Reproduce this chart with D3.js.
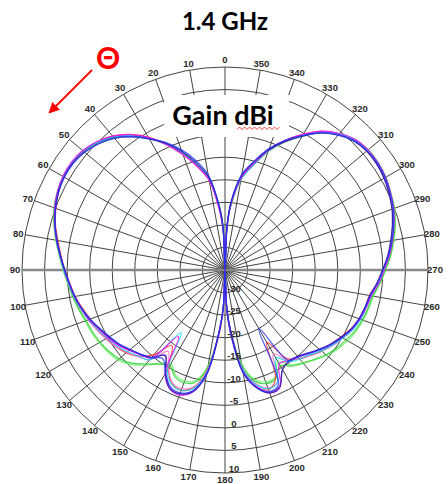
<!DOCTYPE html>
<html>
<head>
<meta charset="utf-8">
<script src="https://cdn.jsdelivr.net/npm/d3@7"></script>
<style>
  body { margin: 0; background: #fff; }
  svg { display: block; }
</style>
</head>
<body>
<div id="chart"></div>
<script>
// angles (deg, counter-clockwise from top) at which gain was read
const angles = [0,2.5,5,10,15,20,25,30,35,40,45,50,55,60,65,70,75,80,85,90,95,100,105,110,115,120,125,130,135,140,145,150,155,160,165,170,175,177.5,180,182.5,185,190,195,200,205,210,215,220,225,230,235,240,245,250,255,260,265,270,275,280,285,290,295,300,305,310,315,320,325,330,335,340,345,350,355,357.5];

// gain dBi per trace
const red = [-40,-27,-22,-14.8,-11.2,-7.8,-4.4,-1.0,1.7,3.8,5.1,6.0,6.3,6.2,5.7,4.9,3.9,2.6,1.5,0.5,-0.5,-1.3,-2.3,-3.2,-3.8,-4.6,-5.4,-6.4,-8.0,-10.5,-14.5,-10.0,-7.2,-6.6,-8.0,-12.5,-21,-27,-40,-26,-21,-12,-8.2,-6.8,-8.5,-16.5,-11.0,-9.3,-8.2,-7.0,-6.3,-5.3,-4.2,-3.4,-2.9,-2.5,-1.2,0.0,1.3,2.4,3.5,4.5,5.2,5.8,6.1,6.0,5.6,4.2,2.5,-0.2,-3.3,-6.6,-10.5,-14.0,-20.5,-26.5];
const green = [-40,-25,-21,-14.2,-10.8,-7.2,-4.0,-1.3,1.3,3.4,4.9,6.0,6.5,6.5,6.0,5.3,4.2,3.0,1.8,0.8,-0.1,-0.8,-1.5,-2.2,-2.6,-3.0,-3.6,-4.4,-5.8,-7.8,-9.5,-10.5,-8.8,-8.4,-9.2,-13,-22,-27,-40,-27,-22,-13.5,-9.5,-8.2,-8.4,-10.5,-9.0,-8.0,-7.0,-5.8,-4.8,-4.0,-3.2,-2.6,-2.2,-1.8,-0.6,0.5,1.8,2.9,4.0,4.9,5.5,6.1,6.4,6.4,5.8,4.4,2.3,-0.6,-3.6,-7.0,-11.0,-14.5,-21,-26];
const blue = [-40,-26,-21,-13.5,-9.8,-6.6,-3.8,-1.4,1.1,3.2,4.6,5.6,6.1,6.1,5.7,5.0,4.0,2.9,1.7,0.6,-0.4,-1.2,-2.1,-3.2,-4.4,-5.5,-6.4,-7.6,-8.6,-9.6,-11.0,-8.6,-6.4,-6.0,-7.2,-11.5,-22,-27,-40,-27,-21,-11.8,-8.0,-6.3,-7.0,-20,-10.5,-9.8,-8.8,-7.5,-6.2,-5.1,-4.0,-3.3,-2.8,-2.3,-1.1,0.0,1.4,2.6,3.7,4.7,5.4,6.0,6.3,6.1,5.5,4.1,2.2,-0.5,-3.2,-6.3,-10.0,-13.5,-20,-25.5];
const cyan = [-40,-26,-21.5,-14.6,-11.0,-7.6,-4.3,-1.3,1.4,3.5,5.0,6.1,6.5,6.4,5.9,5.1,4.1,2.9,1.7,0.7,-0.2,-1.0,-1.9,-2.8,-3.9,-4.8,-5.7,-6.8,-8.0,-9.0,-18,-9.5,-7.0,-6.6,-7.8,-12,-22,-27,-40,-27,-22,-12.8,-8.8,-7.0,-7.5,-12.5,-10.2,-9.2,-8.4,-7.1,-5.9,-4.8,-3.7,-3.0,-2.6,-2.1,-0.9,0.2,1.5,2.6,3.7,4.7,5.4,6.0,6.3,6.3,5.8,4.4,2.4,-0.5,-3.5,-6.9,-10.9,-14.5,-20.5,-26];
const magenta = [-40,-26.5,-22,-14.8,-11.2,-7.7,-4.3,-1.1,1.6,3.7,5.2,6.2,6.6,6.5,6.0,5.2,4.1,2.9,1.6,0.6,-0.3,-1.1,-2.0,-2.9,-4.1,-5.0,-6.0,-7.3,-8.5,-9.6,-17,-8.5,-6.0,-5.5,-6.9,-11.5,-22,-27,-40,-27,-22,-12.2,-8.2,-6.0,-6.2,-11.0,-10.5,-9.9,-8.9,-7.6,-6.3,-5.2,-4.0,-3.2,-2.6,-2.1,-0.8,0.3,1.6,2.7,3.8,4.8,5.5,6.1,6.4,6.4,5.9,4.5,2.6,-0.3,-3.3,-6.7,-10.6,-14.2,-20.5,-26];
const purple = [-40,-26,-21.5,-14.4,-10.9,-7.4,-4.1,-1.2,1.5,3.6,5.0,6.0,6.4,6.3,5.8,5.0,4.0,2.8,1.6,0.6,-0.3,-1.1,-2.0,-3.0,-4.2,-5.2,-6.1,-7.3,-8.4,-9.5,-12,-8.8,-6.2,-5.8,-7.2,-11.8,-22,-27,-40,-27,-22,-12.3,-8.3,-6.2,-6.5,-9.5,-10.2,-9.8,-8.8,-7.5,-6.2,-5.1,-4.0,-3.3,-2.8,-2.3,-1.1,0.0,1.3,2.4,3.5,4.5,5.2,5.8,6.1,6.1,5.6,4.2,2.3,-0.5,-3.5,-6.9,-10.9,-14.4,-20.5,-26];
const navy = [-40,-26,-21,-14,-10.4,-7.0,-4.0,-1.5,1.0,3.1,4.6,5.7,6.2,6.2,5.8,5.0,4.0,2.8,1.6,0.5,-0.4,-1.2,-2.1,-3.1,-4.3,-5.3,-6.3,-7.5,-8.6,-9.7,-11.8,-8.5,-6.0,-5.8,-7.0,-11.5,-22,-27,-40,-27,-21.5,-12.0,-8.0,-6.0,-6.3,-9.5,-10.4,-10.0,-9.0,-7.7,-6.4,-5.3,-4.1,-3.4,-2.9,-2.4,-1.2,-0.1,1.2,2.3,3.4,4.4,5.1,5.7,6.0,6.0,5.4,4.0,2.0,-0.8,-3.6,-6.6,-10.2,-13.6,-20,-25.5];
const pink = [-40,-26,-21.5,-14.7,-11.1,-7.6,-4.3,-1.2,1.5,3.7,5.1,6.1,6.5,6.4,5.9,5.1,4.1,2.9,1.7,0.7,-0.2,-1.0,-1.8,-2.7,-3.6,-4.5,-5.4,-6.6,-7.8,-9.0,-13,-9.8,-7.4,-7.0,-8.2,-12.5,-22,-27,-40,-27,-22,-13,-9.0,-7.2,-7.6,-13.5,-10.6,-9.4,-8.3,-7.0,-5.8,-4.8,-3.8,-3.1,-2.6,-2.1,-0.9,0.2,1.5,2.6,3.7,4.7,5.4,6.0,6.3,6.3,5.8,4.4,2.5,-0.3,-3.3,-6.7,-10.7,-14.2,-20.5,-26];
const lime = [-40,-25.5,-21,-14.3,-10.9,-7.3,-4.1,-1.3,1.3,3.4,4.9,5.9,6.4,6.4,6.0,5.3,4.3,3.1,1.9,0.9,0.0,-0.7,-1.4,-2.0,-2.3,-2.8,-3.3,-4.0,-5.4,-7.5,-9.8,-11.0,-9.2,-8.8,-9.6,-13.5,-22,-27,-40,-27,-22,-14,-10,-8.6,-8.8,-11.5,-9.3,-8.2,-6.8,-5.5,-4.5,-3.6,-2.9,-2.4,-2.0,-1.6,-0.5,0.6,1.9,3.0,4.1,5.0,5.6,6.2,6.5,6.5,5.9,4.5,2.3,-0.7,-3.7,-7.1,-11.1,-14.6,-21,-26];

const series = [
  { v: lime, c: "#5cf25c" },
  { v: green, c: "#22cc22" },
  { v: red, c: "#ff2a2a" },
  { v: pink, c: "#ff66c4" },
  { v: purple, c: "#8a2be2" },
  { v: cyan, c: "#00d8e8" },
  { v: magenta, c: "#ff00ff" },
  { v: navy, c: "#1a1a9a" },
  { v: blue, c: "#2233ff" }
];

const ringTicks = [-30, -25, -20, -15, -10, -5, 0, 5, 10];
const angleTicks = [0,10,20,30,40,50,60,70,80,90,100,110,120,130,140,150,160,170,180,190,200,210,220,230,240,250,260,270,280,290,300,310,320,330,340,350];

const W = 448, H = 484;
const cx = 225, cy = 270, R = 203;

const svg = d3.select("#chart").append("svg")
  .attr("width", W).attr("height", H);

const r = d3.scaleLinear().domain([-35, 10]).range([0, R]).clamp(true);
const rad = a => -a * Math.PI / 180;

const g = svg.append("g").attr("transform", "translate(" + cx + "," + cy + ")");

// grid rings
g.selectAll("circle.ring")
  .data(ringTicks)
  .enter().append("circle")
  .attr("class", "ring")
  .attr("r", d => r(d))
  .attr("fill", "none")
  .attr("stroke", "#444")
  .attr("stroke-width", 1);

// spokes
g.selectAll("line.spoke")
  .data(angleTicks)
  .enter().append("line")
  .attr("class", "spoke")
  .attr("x1", 0).attr("y1", 0)
  .attr("x2", d => R * Math.sin(rad(d)))
  .attr("y2", d => -R * Math.cos(rad(d)))
  .attr("stroke", "#444")
  .attr("stroke-width", 1);

// 90-270 axis
g.append("line")
  .attr("x1", -R).attr("x2", R).attr("y1", 0).attr("y2", 0)
  .attr("stroke", "#888").attr("stroke-width", 2.5);

// angle labels
g.selectAll("text.ang")
  .data(angleTicks)
  .enter().append("text")
  .attr("class", "ang")
  .attr("x", d => 210 * Math.sin(rad(d)))
  .attr("y", d => -210 * Math.cos(rad(d)))
  .attr("dy", "0.35em")
  .attr("text-anchor", "middle")
  .attr("font-family", "Liberation Sans, Arial, sans-serif")
  .attr("font-weight", "bold")
  .attr("font-size", 9.5)
  .attr("fill", "#2a2a2a")
  .text(d => d);

// traces
const line = d3.lineRadial()
  .angle(d => rad(d[0]))
  .radius(d => r(d[1]))
  .curve(d3.curveCatmullRomClosed.alpha(0.5));

g.selectAll("path.trace")
  .data(series)
  .enter().append("path")
  .attr("class", "trace")
  .attr("d", s => line(angles.map((a, i) => [a, s.v[i]])))
  .attr("fill", "none")
  .attr("stroke", s => s.c)
  .attr("stroke-width", 1.2)
  .attr("stroke-opacity", 0.8);

// ring labels along 180 spoke
g.selectAll("text.rl")
  .data(ringTicks)
  .enter().append("text")
  .attr("class", "rl")
  .attr("x", 9)
  .attr("y", d => r(d) - 1)
  .attr("text-anchor", "middle")
  .attr("font-family", "Liberation Sans, Arial, sans-serif")
  .attr("font-weight", "bold")
  .attr("font-size", 9.5)
  .attr("fill", "#2a2a2a")
  .text(d => d);

// white box behind "Gain dBi"
svg.append("rect")
  .attr("x", 164).attr("y", 95).attr("width", 125).attr("height", 42)
  .attr("fill", "#fff");

svg.append("text")
  .attr("x", 223).attr("y", 125)
  .attr("text-anchor", "middle")
  .attr("font-family", "Lato, sans-serif")
  .attr("font-weight", "bold")
  .attr("font-size", 27)
  .attr("fill", "#000")
  .text("Gain dBi");

// spell-check squiggle under dBi
const sq = d3.range(237, 281, 2.5).map((x, i) => [x, i % 2 ? 127 : 129.5]);
svg.append("path")
  .attr("d", d3.line()(sq))
  .attr("fill", "none").attr("stroke", "#e33").attr("stroke-width", 0.9);

// title
svg.append("text")
  .attr("x", 225).attr("y", 30)
  .attr("text-anchor", "middle")
  .attr("font-family", "Lato, sans-serif")
  .attr("font-weight", "bold")
  .attr("font-size", 24)
  .attr("fill", "#000")
  .text("1.4 GHz");

// theta marker
svg.append("defs").append("marker")
  .attr("id", "arr").attr("viewBox", "0 0 10 10")
  .attr("refX", 8).attr("refY", 5)
  .attr("markerWidth", 6).attr("markerHeight", 6)
  .attr("orient", "auto")
  .append("path").attr("d", "M0,0L10,5L0,10z").attr("fill", "#f00");

svg.append("line")
  .attr("x1", 92).attr("y1", 70).attr("x2", 50).attr("y2", 112)
  .attr("stroke", "#f00").attr("stroke-width", 1.8)
  .attr("marker-end", "url(#arr)");

svg.append("text")
  .attr("x", 108).attr("y", 69)
  .attr("text-anchor", "middle")
  .attr("font-family", "Lato, sans-serif")
  .attr("font-weight", "bold")
  .attr("font-size", 30)
  .attr("fill", "#f00")
  .text("Θ");
</script>
</body>
</html>
